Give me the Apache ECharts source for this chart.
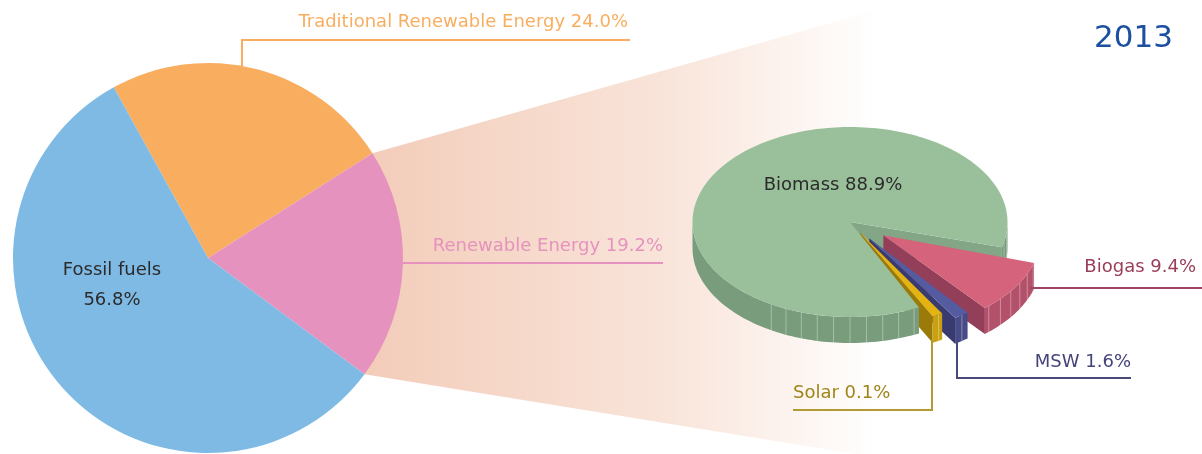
<!DOCTYPE html>
<html><head><meta charset="utf-8">
<script src="https://cdn.jsdelivr.net/npm/echarts@6/dist/echarts.min.js"></script>
<style>html,body{margin:0;padding:0;background:#fff}#c{width:1202px;height:454px}</style>
</head><body><div id="c"></div>
<script>
// ---------- data ----------
const titleText = '2013';
const mainCategories = ['Traditional Renewable Energy', 'Renewable Energy', 'Fossil fuels'];
const mainValues = [24.0, 19.2, 56.8];
const subCategories = ['Biomass', 'Biogas', 'MSW', 'Solar'];
const subValues = [88.9, 9.4, 1.6, 0.1];

// ---------- layout / style ----------
const FONT = 'DejaVu Sans';
const mainColors = ['#F9AE5F', '#E592BE', '#7FBAE5'];
const PIE = { cx: 208, cy: 258, r: 195, start: 118.9 };
const FAN = { farX: 880, farTopY: 9, farBotY: 458 };
const P3 = { cx: 850, cy: 222, rx: 157.5, ry: 95, depth: 26, start: 296, minAngle: 4, padAngle: 1.5 };
const explode = [0, 40, 33, 20];
const sub3d = {
  top: ['#9AC09B', '#D5637B', '#555BA0', '#E3B213'],
  rim: ['#789C7C', '#B3516A', '#474B88', '#C9A010'],
  cut: ['#83A786', '#933F59', '#393B70', '#9A7A08']
};
const subLabelColor = ['#2B2B2B', '#9A3D58', '#44447A', '#A08418'];
const subLineColor = ['#2B2B2B', '#A04262', '#4A4A7A', '#B39A33'];

const rad = d => d * Math.PI / 180;
const fmt = v => v.toFixed(1) + '%';

// angles of the 3D pie slices (clockwise from start), with minAngle / padAngle like the pie series
const sliceAngles = [];
(function () {
  const total = subValues.reduce((a, b) => a + b, 0);
  const avail = 360 - P3.padAngle * subValues.length;
  let spans = subValues.map(v => v / total * avail);
  const small = spans.map(s => s < P3.minAngle);
  const fixed = small.reduce((a, s) => a + (s ? P3.minAngle : 0), 0);
  const rest = spans.reduce((a, s, i) => a + (small[i] ? 0 : s), 0);
  spans = spans.map((s, i) => small[i] ? P3.minAngle : s * (avail - fixed) / rest);
  let cur = P3.start;
  spans.forEach(span => { sliceAngles.push({ hi: cur, lo: cur - span }); cur -= span + P3.padAngle; });
})();
function pt(theta, ox, oy, down) {
  return [P3.cx + ox + P3.rx * Math.cos(rad(theta)), P3.cy + oy - P3.ry * Math.sin(rad(theta)) + (down || 0)];
}
function arcPts(t1, t2, ox, oy, down) {
  const n = Math.max(2, Math.ceil(Math.abs(t2 - t1) / 1.5));
  const r = [];
  for (let k = 0; k <= n; k++) r.push(pt(t1 + (t2 - t1) * k / n, ox, oy, down));
  return r;
}
function frontIntervals(lo, hi) {
  const out = [];
  for (let k = -2; k <= 2; k++) {
    const a = Math.max(lo, 180 + 360 * k), b = Math.min(hi, 360 + 360 * k);
    if (b > a) out.push([a, b]);
  }
  return out;
}
function sliceOffset(i) {
  const { lo, hi } = sliceAngles[i];
  const mid = (lo + hi) / 2, d = explode[i];
  return [d * Math.cos(rad(mid)), -d * Math.sin(rad(mid)) * P3.ry / P3.rx];
}

function render3d(params) {
  const i = params.dataIndex;
  const { lo, hi } = sliceAngles[i];
  const [ox, oy] = sliceOffset(i);
  const apex = [P3.cx + ox, P3.cy + oy];
  const children = [];
  // cut faces
  [[lo, Math.cos(rad(lo)) > 0], [hi, Math.cos(rad(hi)) < 0]].forEach(([t, vis]) => {
    if (!vis) return;
    const a = pt(t, ox, oy, 0), b = pt(t, ox, oy, P3.depth);
    children.push({ type: 'polygon', z2: 10 + i, shape: { points: [apex, a, b, [apex[0], apex[1] + P3.depth]] }, style: { fill: sub3d.cut[i] } });
  });
  // outer rim
  frontIntervals(lo, hi).forEach(([t1, t2]) => {
    const top = arcPts(t1, t2, ox, oy, 0);
    const bot = arcPts(t2, t1, ox, oy, P3.depth);
    children.push({ type: 'polygon', z2: 20 + i, shape: { points: top.concat(bot) }, style: { fill: sub3d.rim[i] } });
    for (let t = Math.ceil(t1 / 6) * 6; t < t2; t += 6) {
      const m = ((t % 360) + 360) % 360;
      if (m < 236 || t <= t1 + 0.5) continue;
      const a = pt(t, ox, oy, 0), b = pt(t, ox, oy, P3.depth);
      children.push({ type: 'line', z2: 20 + i, shape: { x1: a[0], y1: a[1], x2: b[0], y2: b[1] }, style: { stroke: 'rgba(255,255,255,0.35)', lineWidth: 1 } });
    }
  });
  // top face (always above every side face)
  children.push({ type: 'polygon', z2: 40 + i, shape: { points: [apex].concat(arcPts(lo, hi, ox, oy, 0)) }, style: { fill: sub3d.top[i] } });
  return { type: 'group', children };
}

// fan connecting the "Renewable Energy" slice to the detail pie
const renAngles = (function () {
  const a1 = PIE.start - mainValues[0] / 100 * 360;
  const a2 = a1 - mainValues[1] / 100 * 360;
  return [a1, a2];
})();
const fanP1 = [PIE.cx + PIE.r * Math.cos(rad(renAngles[0])), PIE.cy - PIE.r * Math.sin(rad(renAngles[0]))];
const fanP2 = [PIE.cx + PIE.r * Math.cos(rad(renAngles[1])), PIE.cy - PIE.r * Math.sin(rad(renAngles[1]))];

const tradX = PIE.cx + 34;
const tradTopY = PIE.cy - Math.sqrt(PIE.r * PIE.r - 34 * 34);
const renY = 263;
const renX0 = PIE.cx + Math.sqrt(PIE.r * PIE.r - (renY - PIE.cy) * (renY - PIE.cy));

const textStyle = (txt, color, x, y, align, size) => ({
  type: 'text', z: 20, style: { text: txt, x, y, align: align, verticalAlign: 'middle', fill: color, font: `${size || 18}px "${FONT}"` }
});
const lineEl = (pts, color) => ({ type: 'polyline', z: 20, shape: { points: pts }, style: { stroke: color, lineWidth: 2, fill: null } });

const graphics = [
  { type: 'polygon', z: 0, silent: true,
    shape: { points: [fanP1, [FAN.farX, FAN.farTopY], [FAN.farX, FAN.farBotY], fanP2] },
    style: { fill: new echarts.graphic.LinearGradient(0, 0, 1, 0, [
      { offset: 0, color: '#F3CCB9' }, { offset: 0.6, color: '#F9E5DB' }, { offset: 1, color: '#FFFFFF' }]) } },
  // left pie labels
  lineEl([[tradX, tradTopY], [tradX, 40], [630, 40]], mainColors[0]),
  textStyle(mainCategories[0] + ' ' + fmt(mainValues[0]), mainColors[0], 628, 22, 'right'),
  lineEl([[renX0, renY], [663, renY]], mainColors[1]),
  textStyle(mainCategories[1] + ' ' + fmt(mainValues[1]), mainColors[1], 663, 246, 'right'),
  textStyle(mainCategories[2], '#2B2B2B', 112, 270, 'center'),
  textStyle(fmt(mainValues[2]), '#2B2B2B', 112, 300, 'center'),
  // detail pie labels
  textStyle(subCategories[0] + ' ' + fmt(subValues[0]), subLabelColor[0], 833, 185, 'center'),
  lineEl([[1030, 288], [1202, 288]], subLineColor[1]),
  textStyle(subCategories[1] + ' ' + fmt(subValues[1]), subLabelColor[1], 1196, 267, 'right'),
  lineEl([[957, 342], [957, 378], [1131, 378]], subLineColor[2]),
  textStyle(subCategories[2] + ' ' + fmt(subValues[2]), subLabelColor[2], 1131, 362, 'right'),
  lineEl([[932, 340], [932, 410], [793, 410]], subLineColor[3]),
  textStyle(subCategories[3] + ' ' + fmt(subValues[3]), subLabelColor[3], 793, 393, 'left')
];

const chart = echarts.init(document.getElementById('c'), null, { renderer: 'canvas' });
chart.setOption({
  animation: false,
  backgroundColor: '#ffffff',
  title: { text: titleText, right: 24, top: 18, textStyle: { fontSize: 31, fontWeight: 'normal', color: '#1B4FA0', fontFamily: FONT } },
  graphic: { elements: graphics },
  series: [
    {
      type: 'pie', z: 2, center: [PIE.cx, PIE.cy], radius: PIE.r, startAngle: PIE.start, clockwise: true,
      label: { show: false }, labelLine: { show: false }, silent: true,
      itemStyle: { borderWidth: 0 },
      data: mainCategories.map((n, i) => ({ name: n, value: mainValues[i], itemStyle: { color: mainColors[i] } }))
    },
    {
      type: 'custom', coordinateSystem: 'none', z: 5, silent: true,
      renderItem: render3d,
      data: subCategories.map((n, i) => ({ name: n, value: subValues[i] }))
    }
  ]
});
</script>
</body></html>
